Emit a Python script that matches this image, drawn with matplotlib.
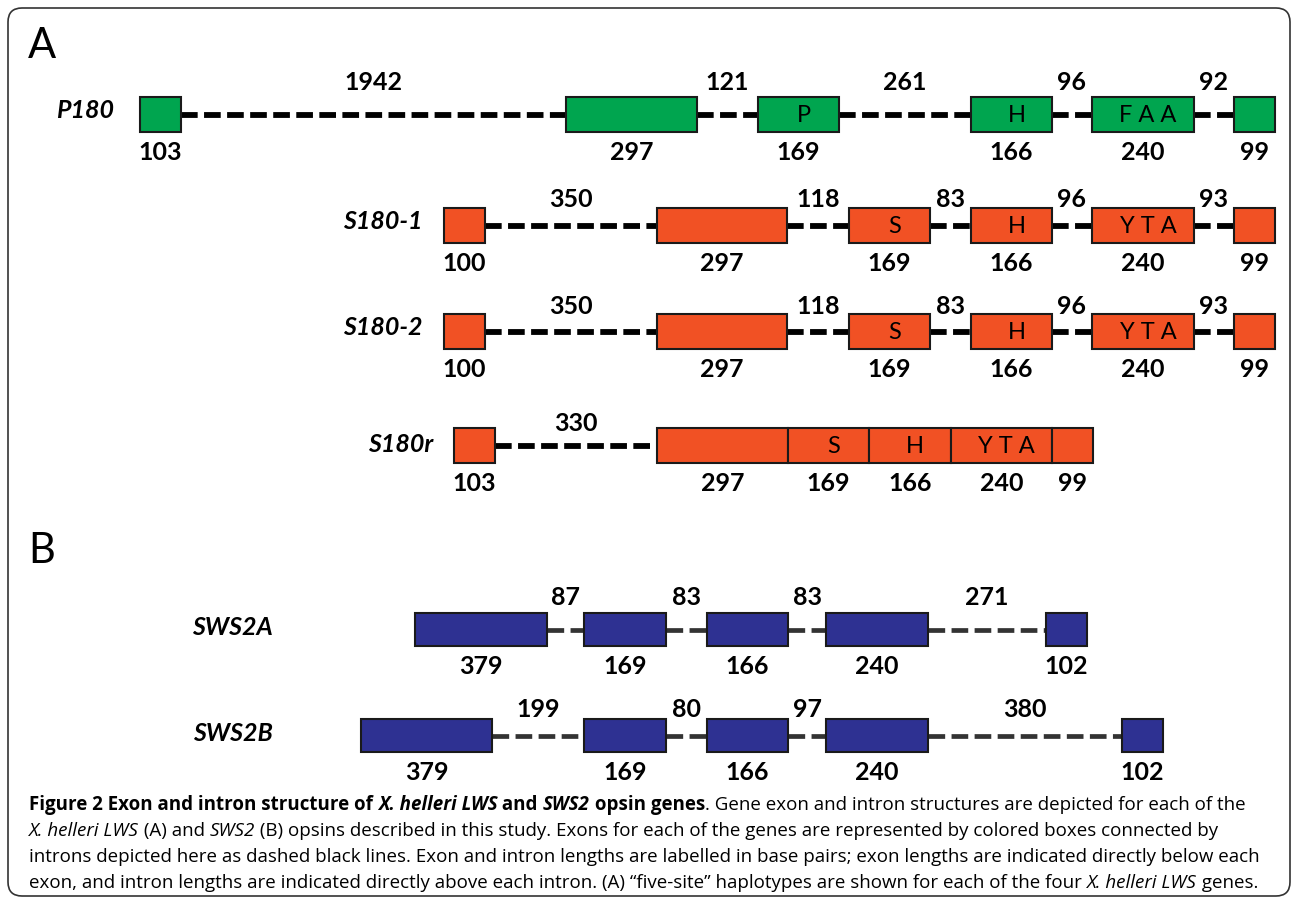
import matplotlib
matplotlib.use("Agg")
import matplotlib.pyplot as plt
from matplotlib.patches import Rectangle, FancyBboxPatch

# ---- data (base pairs) ----
lws_genes = ["P180", "S180-1", "S180-2", "S180r"]
lws_exons = [
    [103, 297, 169, 166, 240, 99],
    [100, 297, 169, 166, 240, 99],
    [100, 297, 169, 166, 240, 99],
    [103, 297, 169, 166, 240, 99],
]
lws_introns = [
    [1942, 121, 261, 96, 92],
    [350, 118, 83, 96, 93],
    [350, 118, 83, 96, 93],
    [330],
]
lws_sites = [
    ["", "", "P", "H", "F A A", ""],
    ["", "", "S", "H", "Y T A", ""],
    ["", "", "S", "H", "Y T A", ""],
    ["", "", "S", "H", "Y T A", ""],
]
sws_genes = ["SWS2A", "SWS2B"]
sws_exons = [
    [379, 169, 166, 240, 102],
    [379, 169, 166, 240, 102],
]
sws_introns = [
    [87, 83, 83, 271],
    [199, 80, 97, 380],
]

# ---- layout (diagram is not drawn to scale) ----
lws_boxes = [
    [(140, 181), (566, 697), (758, 839), (971, 1052), (1092, 1194), (1234, 1275)],
    [(444, 485), (657, 787), (849, 930), (971, 1052), (1092, 1194), (1234, 1275)],
    [(444, 485), (657, 787), (849, 930), (971, 1052), (1092, 1194), (1234, 1275)],
    [(454, 495), (657, 788), (788, 869), (869, 951), (951, 1052), (1052, 1093)],
]
lws_rows = [(97, 132), (208, 243), (314, 349), (428, 463)]
lws_name_x = [85, 383, 383, 401]
lws_above = [7, 1, 0, -3]

sws_boxes = [
    [(415, 547), (584, 666), (707, 788), (826, 928), (1046, 1087)],
    [(361, 492), (584, 666), (707, 788), (826, 928), (1122, 1163)],
]
sws_rows = [(613, 646), (719, 752)]
sws_name_x = [232, 233]
sws_above = [8, 2]

green = "#00A54F"
orange = "#F15124"
blue = "#2E3192"

num_font = "Lato"
cap_font = "Open Sans"

fig = plt.figure(figsize=(12.93, 9.01), dpi=100)
ax = fig.add_axes([0, 0, 1, 1])
ax.set_xlim(0, 1293)
ax.set_ylim(901, 0)
ax.axis("off")

ax.add_patch(FancyBboxPatch((8, 8), 1282, 888, boxstyle="round,pad=0,rounding_size=14",
                            fc="white", ec="#333333", lw=1.2, zorder=0))

ax.text(28, 58, "A", fontsize=30, family=num_font, va="baseline", ha="left")
ax.text(28, 563, "B", fontsize=30, family=num_font, va="baseline", ha="left")


def draw_gene(name, name_x, exons, introns, sites, boxes, row, above, color,
              dash_color, dash_lw, name_dy=0):
    top, bot = row
    yc = (top + bot) / 2
    # introns: dashed lines between consecutive separated exons
    k = 0
    for i in range(len(boxes) - 1):
        x0 = boxes[i][1]
        x1 = boxes[i + 1][0]
        if x1 - x0 < 2 or k >= len(introns):
            continue
        ax.plot([x0, x1], [yc, yc], color=dash_color, lw=dash_lw,
                dashes=(12.0 / dash_lw, 4.6 / dash_lw), solid_capstyle="butt",
                dash_capstyle="butt", zorder=1)
        ax.text((x0 + x1) / 2, top - above, str(introns[k]), fontsize=18,
                family=num_font, fontweight="bold", ha="center", va="baseline")
        k += 1
    for j, (x0, x1) in enumerate(boxes):
        ax.add_patch(Rectangle((x0, top), x1 - x0, bot - top, fc=color,
                               ec="#1a1a1a", lw=1.5, zorder=2))
        ax.text((x0 + x1) / 2, bot + 28, str(exons[j]), fontsize=18,
                family=num_font, fontweight="bold", ha="center", va="baseline")
        if sites and sites[j]:
            ax.text((x0 + x1) / 2 + 5, yc + 1, sites[j], fontsize=17,
                    family=num_font, ha="center", va="center", zorder=3)
    ax.text(name_x, yc + name_dy, name, fontsize=18, family=num_font,
            fontweight="bold", fontstyle="italic", ha="center", va="center")


for i, g in enumerate(lws_genes):
    draw_gene(g, lws_name_x[i], lws_exons[i], lws_introns[i], lws_sites[i],
              lws_boxes[i], lws_rows[i], lws_above[i], orange if i else green,
              "black", 4.2, name_dy=-4 if i < 3 else -1)

for i, g in enumerate(sws_genes):
    draw_gene(g, sws_name_x[i], sws_exons[i], sws_introns[i], None,
              sws_boxes[i], sws_rows[i], sws_above[i], blue,
              "#333333", 3.4, name_dy=-2)

# ---- caption with mixed styles ----
caption = [
    [("Figure 2 Exon and intron structure of ", "bold", "normal"),
     ("X. helleri LWS", "bold", "italic"),
     (" and ", "bold", "normal"),
     ("SWS2", "bold", "italic"),
     (" opsin genes", "bold", "normal"),
     (". Gene exon and intron structures are depicted for each of the", "normal", "normal")],
    [("X. helleri LWS", "normal", "italic"),
     (" (A) and ", "normal", "normal"),
     ("SWS2", "normal", "italic"),
     (" (B) opsins described in this study. Exons for each of the genes are represented by colored boxes connected by",
      "normal", "normal")],
    [("introns depicted here as dashed black lines. Exon and intron lengths are labelled in base pairs; exon lengths are indicated directly below each",
      "normal", "normal")],
    [("exon, and intron lengths are indicated directly above each intron. (A) \u201cfive-site\u201d haplotypes are shown for each of the four ",
      "normal", "normal"),
     ("X. helleri LWS", "normal", "italic"),
     (" genes.", "normal", "normal")],
]
caption_right = [1278, 1225, 1255, 1259]

renderer = fig.canvas.get_renderer()


def run_width(s, size, weight, style):
    a = ax.text(0, 0, "|" + s + "|", fontsize=size, family=cap_font, fontweight=weight, fontstyle=style)
    b = ax.text(0, 0, "||", fontsize=size, family=cap_font, fontweight=weight, fontstyle=style)
    w = a.get_window_extent(renderer).width - b.get_window_extent(renderer).width
    a.remove()
    b.remove()
    return w


def line_width(parts, size):
    return sum(run_width(s, size, wt, st) for s, wt, st in parts)


cap_size = min(12.0 * (r - 29) / line_width(p, 12.0) for p, r in zip(caption, caption_right))

y = 810
for parts in caption:
    x = 29
    for s, wt, st in parts:
        ax.text(x, y, s, fontsize=cap_size, family=cap_font, fontweight=wt,
                fontstyle=st, ha="left", va="baseline")
        x += run_width(s, cap_size, wt, st)
    y += 26

fig.savefig("out.png", dpi=100)
